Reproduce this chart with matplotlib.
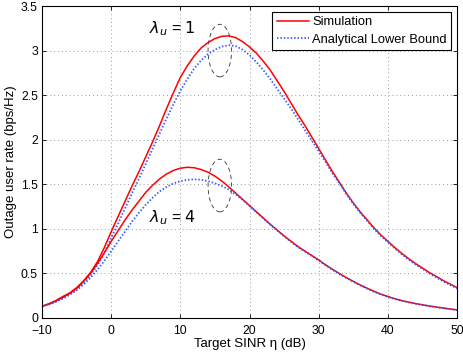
import numpy as np
import matplotlib
matplotlib.use("Agg")
import matplotlib.pyplot as plt
from matplotlib.patches import Ellipse

plt.rcParams['font.family'] = ['Liberation Sans', 'DejaVu Sans']

# target SINR (dB), 1 dB steps from -10 to 50
sinr_db = list(range(-10, 51))

# lambda_u = 1
sim_l1 = [0.13, 0.16, 0.195, 0.24, 0.28, 0.34, 0.415, 0.51, 0.63, 0.79,
          0.97, 1.14, 1.31, 1.48, 1.64, 1.81, 1.98, 2.16, 2.35, 2.53,
          2.70, 2.83, 2.94, 3.03, 3.09, 3.135, 3.16, 3.165, 3.145, 3.10,
          3.04, 2.97, 2.88, 2.78, 2.66, 2.54, 2.41, 2.28, 2.16, 2.03,
          1.90, 1.77, 1.64, 1.52, 1.40, 1.29, 1.19, 1.10, 1.01, 0.93,
          0.86, 0.79, 0.725, 0.665, 0.61, 0.56, 0.51, 0.465, 0.42, 0.38,
          0.34]
ana_l1 = [0.13, 0.155, 0.185, 0.225, 0.27, 0.325, 0.39, 0.48, 0.59, 0.73,
          0.90, 1.06, 1.23, 1.40, 1.56, 1.73, 1.90, 2.07, 2.24, 2.40,
          2.55, 2.68, 2.80, 2.89, 2.96, 3.01, 3.045, 3.06, 3.05, 3.01,
          2.95, 2.87, 2.78, 2.68, 2.57, 2.46, 2.35, 2.23, 2.11, 1.99,
          1.87, 1.75, 1.62, 1.51, 1.39, 1.28, 1.18, 1.09, 1.00, 0.92,
          0.85, 0.78, 0.715, 0.655, 0.60, 0.55, 0.50, 0.455, 0.41, 0.37,
          0.33]

# lambda_u = 4
sim_l4 = [0.13, 0.155, 0.19, 0.23, 0.275, 0.33, 0.41, 0.50, 0.61, 0.73,
          0.86, 0.98, 1.10, 1.21, 1.31, 1.41, 1.49, 1.56, 1.615, 1.655,
          1.68, 1.69, 1.685, 1.665, 1.635, 1.59, 1.535, 1.47, 1.40, 1.33,
          1.26, 1.19, 1.12, 1.05, 0.985, 0.92, 0.86, 0.80, 0.75, 0.70,
          0.65, 0.595, 0.545, 0.497, 0.452, 0.41, 0.37, 0.333, 0.298, 0.267,
          0.24, 0.215, 0.195, 0.177, 0.161, 0.147, 0.134, 0.122, 0.111, 0.10,
          0.09]
ana_l4 = [0.13, 0.15, 0.18, 0.215, 0.26, 0.31, 0.375, 0.45, 0.54, 0.64,
          0.75, 0.86, 0.97, 1.08, 1.18, 1.27, 1.35, 1.42, 1.47, 1.51,
          1.535, 1.55, 1.555, 1.55, 1.535, 1.51, 1.48, 1.44, 1.385, 1.325,
          1.255, 1.185, 1.115, 1.045, 0.98, 0.915, 0.855, 0.795, 0.745, 0.695,
          0.645, 0.59, 0.54, 0.492, 0.447, 0.405, 0.365, 0.328, 0.294, 0.263,
          0.236, 0.212, 0.192, 0.174, 0.158, 0.144, 0.131, 0.119, 0.108, 0.098,
          0.088]

red = '#ff0000'
blue = '#3355ff'
dots = (0, (0.8, 1.1))

fig = plt.figure(figsize=(4.63, 3.54), dpi=100)
ax = fig.add_axes([0.091, 0.102, 0.896, 0.881])

ax.plot(sinr_db, sim_l1, color=red, lw=1.1, label='Simulation')
ax.plot(sinr_db, ana_l1, color=blue, lw=1.3, ls=dots, label='Analytical Lower Bound')
ax.plot(sinr_db, sim_l4, color=red, lw=1.1)
ax.plot(sinr_db, ana_l4, color=blue, lw=1.3, ls=dots)

# dashed ellipses around the peaks
for cy in (3.0, 1.485):
    ax.add_patch(Ellipse((15.7, cy), 3.4, 0.59, fill=False, ec='#333333',
                         lw=0.6, ls=(0, (5, 4))))

ax.text(5.4, 3.19, r'$\lambda_u$ = $\mathit{1}$', fontsize=11.5)
ax.text(5.5, 1.07, r'$\lambda_u$ = $\mathit{4}$', fontsize=11.5)

ax.set_xlim(-10, 50)
ax.set_ylim(0, 3.5)
ax.set_xticks(range(-10, 51, 10))
ax.set_yticks(np.arange(0, 3.51, 0.5))
ax.set_yticklabels(['0', '0.5', '1', '1.5', '2', '2.5', '3', '3.5'])
ax.grid(True, color='#999999', ls=(0, (1, 3)), lw=0.7)
ax.tick_params(direction='in', top=True, right=True, labelsize=8.8, length=3,
               width=0.6, pad=3)
ax.tick_params(axis='x', pad=5)
for s in ax.spines.values():
    s.set_linewidth(0.8)

ax.set_xlabel('Target SINR η (dB)', fontsize=9.5, labelpad=1)
ax.set_ylabel('Outage user rate (bps/Hz)', fontsize=9.5, labelpad=3)

leg = ax.legend(loc='upper right', fontsize=9.3, fancybox=False, framealpha=1,
                edgecolor='black', borderpad=0.35, labelspacing=0.4,
                handlelength=2.5, handletextpad=0.25, borderaxespad=0.45)
leg.get_frame().set_linewidth(0.8)

fig.savefig('out.png', dpi=100)
